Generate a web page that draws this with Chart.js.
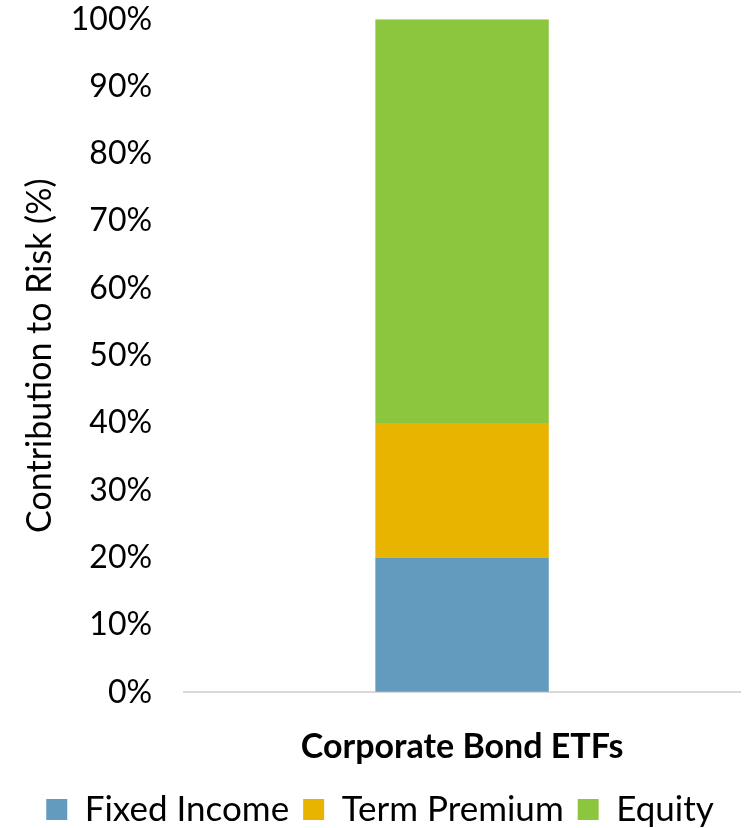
<!DOCTYPE html>
<html>
<head>
<meta charset="utf-8">
<script src="https://cdn.jsdelivr.net/npm/chart.js@4"></script>
<style>
  html, body { margin: 0; padding: 0; background: #fff; }
  #wrap { width: 749px; height: 828px; }
</style>
</head>
<body>
<div id="wrap"><canvas id="risk"></canvas></div>
<script>
const categories = ['Corporate Bond ETFs'];
const fixedIncome = [20];
const termPremium = [20];
const equity = [60];
const seriesNames = ['Fixed Income', 'Term Premium', 'Equity'];

const ctx = document.getElementById('risk').getContext('2d');
const chart = new Chart(ctx, {
  type: 'bar',
  data: {
    labels: categories,
    datasets: [
      { label: seriesNames[0], data: fixedIncome, backgroundColor: '#639bbf' },
      { label: seriesNames[1], data: termPremium, backgroundColor: '#e8b400' },
      { label: seriesNames[2], data: equity, backgroundColor: '#8cc63f' }
    ]
  },
  options: {
    responsive: true,
    maintainAspectRatio: false,
    animation: false,
    layout: { padding: { left: 20, right: 9, top: 1, bottom: -9 } },
    datasets: { bar: { categoryPercentage: 0.312, barPercentage: 1 } },
    scales: {
      x: {
        stacked: true,
        // invisible tick marks give the gap under the axis line
        grid: { display: true, drawOnChartArea: false, drawTicks: true, tickLength: 23, tickColor: 'rgba(0,0,0,0)' },
        border: { color: '#d9d9d9', width: 2 },
        ticks: {
          color: '#000',
          padding: 11,
          font: { family: 'Lato', size: 34, weight: 'bold' }
        }
      },
      y: {
        stacked: true,
        min: 0,
        max: 100,
        grid: { display: true, drawOnChartArea: false, drawTicks: true, tickLength: 32, tickColor: 'rgba(0,0,0,0)' },
        border: { display: false },
        ticks: {
          stepSize: 10,
          color: '#000',
          padding: 0,
          font: { family: 'Lato', size: 32 },
          callback: v => v + '%'
        },
        title: {
          display: true,
          text: 'Contribution to Risk (%)',
          color: '#000',
          padding: { top: 0, bottom: 10 },
          font: { family: 'Lato', size: 34 }
        }
      }
    },
    plugins: {
      legend: {
        position: 'bottom',
        labels: {
          color: '#000',
          boxWidth: 21,
          boxHeight: 21,
          padding: 14,
          font: { family: 'Lato', size: 35 }
        }
      },
      tooltip: { enabled: false }
    }
  }
});
</script>
</body>
</html>
